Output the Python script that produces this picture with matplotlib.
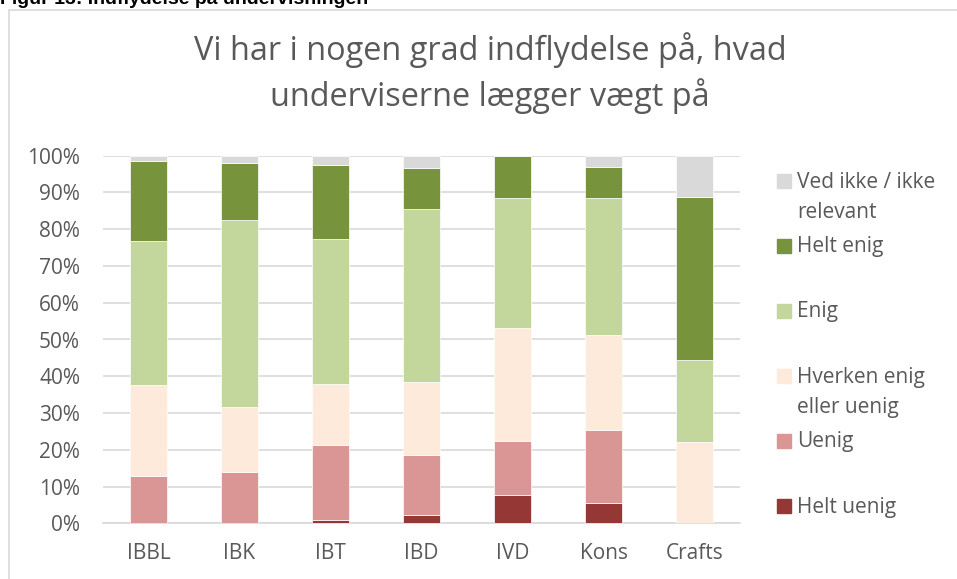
import matplotlib.pyplot as plt
from matplotlib.patches import Rectangle
import numpy as np

plt.rcParams['font.family'] = ['Open Sans', 'DejaVu Sans']

categories = ['IBBL', 'IBK', 'IBT', 'IBD', 'IVD', 'Kons', 'Crafts']

helt_uenig = [0.0, 0.0, 1.0, 2.3, 7.7, 5.4, 0.0]
uenig = [12.9, 13.9, 20.2, 16.2, 14.7, 20.1, 0.0]
hverken = [24.6, 17.7, 16.8, 19.9, 30.6, 25.7, 22.2]
enig = [39.3, 50.8, 39.3, 47.2, 35.6, 37.3, 22.2]
helt_enig = [21.8, 15.7, 20.2, 11.1, 11.4, 8.4, 44.5]
ved_ikke = [1.4, 1.9, 2.5, 3.3, 0.0, 3.1, 11.1]

series = [helt_uenig, uenig, hverken, enig, helt_enig, ved_ikke]
labels = ['Helt uenig', 'Uenig', 'Hverken enig\neller uenig', 'Enig',
          'Helt enig', 'Ved ikke / ikke\nrelevant']
colors = ['#953735', '#D99694', '#FDEADA', '#C3D69B', '#77933C', '#D9D9D9']

title_lines = ['Vi har i nogen grad indflydelse på, hvad',
               'underviserne lægger vægt på']

txt = '#595959'
grid = '#D9D9D9'
W, H = 957, 579

fig = plt.figure(figsize=(9.57, 5.79), dpi=100)
ax = fig.add_axes([103 / W, 1 - 523.3 / H, 637 / W, 367.6 / H])

x = np.arange(len(categories))
bottom = np.zeros(len(categories))
for vals, lab, col in zip(series, labels, colors):
    v = np.array(vals) / 100
    ax.bar(x, v, 0.4, bottom=bottom, color=col, edgecolor='white',
           linewidth=0.5, label=lab, zorder=3)
    bottom += v

ax.set_xlim(-0.5, len(categories) - 0.5)
ax.set_ylim(0, 1)
yt = np.arange(0, 1.01, 0.1)
ax.set_yticks(yt)
ax.set_yticklabels([f'{int(round(t * 100))}%' for t in yt])
ax.set_xticks(x)
ax.set_xticklabels(categories)
ax.grid(axis='y', color=grid, linewidth=1.2, zorder=0)
for s in ['top', 'right', 'left']:
    ax.spines[s].set_visible(False)
ax.spines['bottom'].set_color(grid)
ax.spines['bottom'].set_linewidth(1.2)
ax.tick_params(length=0, colors=txt, labelsize=15)
ax.tick_params(axis='y', pad=16.5)
ax.tick_params(axis='x', pad=14)

# legend, drawn by hand like the Excel layout
legend_y = [181, 246, 311, 376, 441, 506]
for i, (lab, col) in enumerate(zip(labels[::-1], colors[::-1])):
    yy = legend_y[i]
    fig.add_artist(Rectangle((777 / W, 1 - (yy + 7) / H), 14 / W, 14 / H,
                             transform=fig.transFigure, color=col))
    for j, line in enumerate(lab.split('\n')):
        fig.text(797 / W, 1 - (yy + 6.5 + 30 * j) / H, line, color=txt,
                 fontsize=15, va='baseline', ha='left')

for j, line in enumerate(title_lines):
    fig.text(490 / W, 1 - (60 + 46 * j) / H, line, ha='center',
             va='baseline', fontsize=23.4, color=txt)

# chart frame and caption above it
fig.add_artist(Rectangle((9 / W, -0.05), 1.1, 1.05 - 10 / H,
                         transform=fig.transFigure, fill=False,
                         edgecolor=grid, linewidth=1.2))
fig.text(0, 1 - 4 / H, 'Figur 13: Indflydelse på undervisningen',
         fontsize=14, fontweight='bold', family=['Liberation Sans'],
         ha='left', va='baseline', color='black')

fig.savefig('out.png', dpi=100)
